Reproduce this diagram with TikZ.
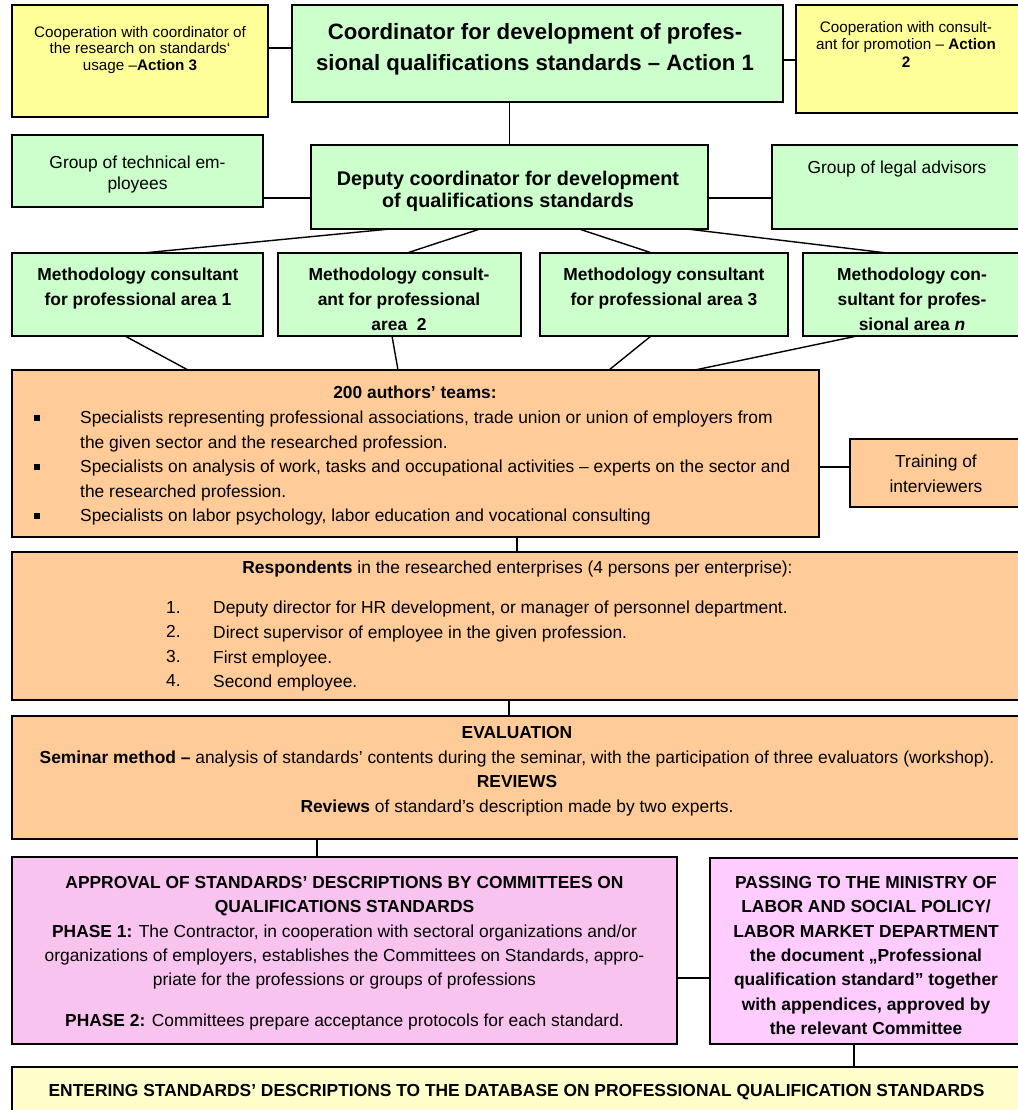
\documentclass[tikz,border=0pt]{standalone}
\usepackage{fontspec}
\setmainfont{Liberation Sans}
\newcommand\fsz[2]{\fontsize{#1}{#2}\selectfont}
\definecolor{yel}{HTML}{FFFF99}
\definecolor{grn}{HTML}{CCFFCC}
\definecolor{org}{HTML}{FFCC99}
\definecolor{pinkA}{HTML}{F9C3EF}
\definecolor{pinkB}{HTML}{FFCCFF}
\definecolor{cream}{HTML}{FFFFCC}
\begin{document}
\begin{tikzpicture}[x=1pt,y=-1pt,
  box/.style={draw=black, line width=1.8pt, anchor=north west, inner sep=0pt, outer sep=0pt},
  link/.style={draw=black, line width=1.4pt},
  t/.style={inner sep=0pt, anchor=north, align=center},
  tl/.style={inner sep=0pt, anchor=north west, align=left}]
\useasboundingbox (0,0) rectangle (1017,1110);
\fill[white] (0,0) rectangle (1017,1110);

% ---- boxes ----
\node[box, fill=yel, minimum width=256, minimum height=112] (yl) at (12,5) {};
\node[box, fill=grn, minimum width=491, minimum height=97] (coord) at (292,5) {};
\node[box, fill=yel, minimum width=230, minimum height=108] (yr) at (796,5) {};
\node[box, fill=grn, minimum width=251, minimum height=72] (tech) at (12,135) {};
\node[box, fill=grn, minimum width=397, minimum height=84] (dep) at (311,145) {};
\node[box, fill=grn, minimum width=254, minimum height=84] (legal) at (772,145) {};
\node[box, fill=grn, minimum width=251, minimum height=83] (m1) at (12,253) {};
\node[box, fill=grn, minimum width=243, minimum height=83] (m2) at (278,253) {};
\node[box, fill=grn, minimum width=248, minimum height=83] (m3) at (540,253) {};
\node[box, fill=grn, minimum width=223, minimum height=83] (m4) at (803,253) {};
\node[box, fill=org, minimum width=807, minimum height=167] (auth) at (12,370) {};
\node[box, fill=org, minimum width=176, minimum height=68] (train) at (850,439) {};
\node[box, fill=org, minimum width=1014, minimum height=148] (resp) at (12,552) {};
\node[box, fill=org, minimum width=1014, minimum height=123] (eval) at (12,716) {};
\node[box, fill=pinkA, minimum width=665, minimum height=187] (appr) at (12,857) {};
\node[box, fill=pinkB, minimum width=316, minimum height=186] (pass) at (710,858) {};
\node[box, fill=cream, minimum width=1014, minimum height=60] (enter) at (12,1067) {};

% ---- connectors ----
\coordinate (cyl) at ([yshift=-43pt]coord.north west);
\draw[link] (cyl) -- (cyl -| yl.east);
\coordinate (cyr) at ([yshift=-55pt]coord.north east);
\draw[link] (cyr) -- (cyr -| yr.west);
\draw[link] (dep.north) -- (dep.north |- coord.south);
\coordinate (ctech) at ([yshift=-53pt]dep.north west);
\draw[link] (ctech) -- (ctech -| tech.east);
\coordinate (clegal) at ([yshift=-53pt]dep.north east);
\draw[link] (clegal) -- (clegal -| legal.west);
\draw[link] ([xshift=79pt]dep.south west) -- ([xshift=131pt]m1.north west);
\draw[link] ([xshift=169pt]dep.south west) -- ([xshift=129pt]m2.north west);
\draw[link] ([xshift=268pt]dep.south west) -- ([xshift=112pt]m3.north west);
\draw[link] ([xshift=376pt]dep.south west) -- ([xshift=84pt]m4.north west);
\draw[link] ([xshift=113pt]m1.south west) -- ([xshift=176pt]auth.north west);
\draw[link] ([xshift=114pt]m2.south west) -- ([xshift=386pt]auth.north west);
\draw[link] ([xshift=111pt]m3.south west) -- ([xshift=597pt]auth.north west);
\draw[link] ([xshift=54pt]m4.south west) -- ([xshift=683pt]auth.north west);
\coordinate (ctrain) at ([yshift=-28pt]train.north west);
\draw[link] (ctrain) -- (ctrain -| auth.east);
\coordinate (cresp) at ([xshift=505pt]resp.north west);
\draw[link] (cresp) -- (cresp |- auth.south);
\coordinate (ceval) at ([xshift=497pt]eval.north west);
\draw[link] (ceval) -- (ceval |- resp.south);
\coordinate (cappr) at ([xshift=305pt]appr.north west);
\draw[link] (cappr) -- (cappr |- eval.south);
\coordinate (cpass) at ([yshift=-120pt]pass.north west);
\draw[link] (cpass) -- (cpass -| appr.east);
\coordinate (center) at ([xshift=144pt]pass.south west);
\draw[link] (center) -- (center |- enter.north);

% ---- texts ----
\node[t, font=\fsz{15.25}{16.5}] (tyl) at (140,26)
  {Cooperation with coordinator of\\the research on standards‘\\usage –\textbf{Action 3}};
\node[t, font=\fsz{22.2}{31}\bfseries] (tcoord) at (535,23)
  {Coordinator for development of profes-\\sional qualifications standards – Action 1};
\node[t, font=\fsz{15.25}{17.5}] (tyr) at (906,21)
  {Cooperation with consult-\\ant for promotion – \textbf{Action}\\\textbf{2}};
\node[t, font=\fsz{17.4}{21}] (ttech) at (137.5,156) {Group of technical em-\\ployees};
\node[t, font=\fsz{19.8}{21.7}\bfseries] (tdep) at (508,171)
  {Deputy coordinator for development\\of qualifications standards};
\node[t, font=\fsz{17.4}{21}] (tlegal) at (897,161) {Group of legal advisors};

\node[t, font=\fsz{17.4}{25}\bfseries] (tm1) at (138,268) {Methodology consultant\\for professional area 1};
\node[t, font=\fsz{17.4}{25}\bfseries] (tm2) at (399,268) {Methodology consult-\\ant for professional\\area\ \ 2};
\node[t, font=\fsz{17.4}{25}\bfseries] (tm3) at (664,268) {Methodology consultant\\for professional area 3};
\node[t, font=\fsz{17.4}{25}\bfseries] (tm4) at (912,268) {Methodology con-\\sultant for profes-\\sional area \textit{n}};

\node[t, font=\fsz{17.4}{24.5}\bfseries] (tauth) at (415,386) {200 authors’ teams:};
\node[tl, font=\fsz{17.4}{24.5}] (tauthlist) at (80,411)
  {Specialists representing professional associations, trade union or union of employers from\\
   the given sector and the researched profession.\\
   Specialists on analysis of work, tasks and occupational activities – experts on the sector and\\
   the researched profession.\\
   Specialists on labor psychology, labor education and vocational consulting};
\foreach \yb in {418,467,516}
  \fill (34,\yb-3) rectangle (40,\yb+3);
\node[t, font=\fsz{17.4}{25}] (ttrain) at (936,455) {Training of\\interviewers};

\node[t, font=\fsz{17.4}{24.5}] (tresp) at (517.5,561)
  {\textbf{Respondents} in the researched enterprises (4 persons per enterprise):};
\node[tl, font=\fsz{17.4}{24.6}] (tnum) at (166,601) {1.\\2.\\3.\\4.};
\node[tl, font=\fsz{17.4}{24.6}] (titems) at (213,601)
  {Deputy director for HR development, or manager of personnel department.\\
   Direct supervisor of employee in the given profession.\\
   First employee.\\
   Second employee.};

\node[t, font=\fsz{17.4}{24.4}] (teval) at (517,726.5)
  {\textbf{EVALUATION}\\
   \textbf{Seminar method –} analysis of standards’ contents during the seminar, with the participation of three evaluators (workshop).\\
   \textbf{REVIEWS}\\
   \textbf{Reviews} of standard’s description made by two experts.};

\node[t, font=\fsz{17.4}{24.4}] (tappr) at (344.5,876)
  {\textbf{APPROVAL OF STANDARDS’ DESCRIPTIONS BY COMMITTEES ON}\\
   \textbf{QUALIFICATIONS STANDARDS}\\
   \textbf{PHASE 1:} The Contractor, in cooperation with sectoral organizations and/or\\
   organizations of employers, establishes the Committees on Standards, appro-\\
   priate for the professions or groups of professions\\[16.6pt]
   \textbf{PHASE 2:} Committees prepare acceptance protocols for each standard.};

\node[t, font=\fsz{17.4}{24.4}\bfseries] (tpass) at (866,876)
  {PASSING TO THE MINISTRY OF\\LABOR AND SOCIAL POLICY/\\LABOR MARKET DEPARTMENT\\
   the document „Professional\\qualification standard” together\\
   with appendices, approved by\\the relevant Committee};

\node[t, font=\fsz{17.4}{24.4}\bfseries] (tenter) at (516.5,1084)
  {ENTERING STANDARDS’ DESCRIPTIONS TO THE DATABASE ON PROFESSIONAL QUALIFICATION STANDARDS};
\end{tikzpicture}
\end{document}
